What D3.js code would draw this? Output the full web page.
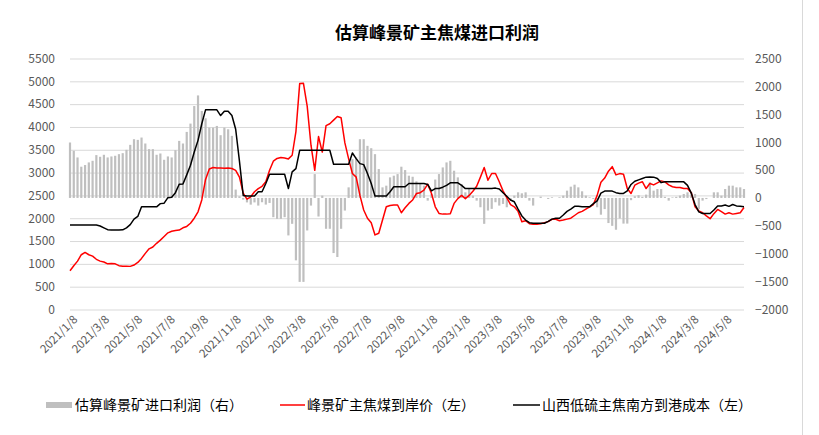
<!DOCTYPE html>
<html><head><meta charset="utf-8">
<script src="https://cdn.jsdelivr.net/npm/d3@7"></script>
<style>
body{margin:0;background:#fff;}
text{font-family:"Noto Sans CJK SC","Noto Sans",sans-serif;}
</style>
</head><body>
<svg id="chart" width="819" height="435"></svg>
<script>
const dates = [
"2021-01-08","2021-01-15","2021-01-22","2021-01-29","2021-02-05","2021-02-12","2021-02-19","2021-02-26","2021-03-05","2021-03-12",
"2021-03-19","2021-03-26","2021-04-02","2021-04-09","2021-04-16","2021-04-23","2021-04-30","2021-05-07","2021-05-14","2021-05-21",
"2021-05-28","2021-06-04","2021-06-11","2021-06-18","2021-06-25","2021-07-02","2021-07-09","2021-07-16","2021-07-23","2021-07-30",
"2021-08-06","2021-08-13","2021-08-20","2021-08-27","2021-09-03","2021-09-10","2021-09-17","2021-09-24","2021-10-01","2021-10-08",
"2021-10-15","2021-10-22","2021-10-29","2021-11-05","2021-11-12","2021-11-19","2021-11-26","2021-12-03","2021-12-10","2021-12-17",
"2021-12-24","2021-12-31","2022-01-07","2022-01-14","2022-01-21","2022-01-28","2022-02-04","2022-02-11","2022-02-18","2022-02-25",
"2022-03-04","2022-03-11","2022-03-18","2022-03-25","2022-04-01","2022-04-08","2022-04-15","2022-04-22","2022-04-29","2022-05-06",
"2022-05-13","2022-05-20","2022-05-27","2022-06-03","2022-06-10","2022-06-17","2022-06-24","2022-07-01","2022-07-08","2022-07-15",
"2022-07-22","2022-07-29","2022-08-05","2022-08-12","2022-08-19","2022-08-26","2022-09-02","2022-09-09","2022-09-16","2022-09-23",
"2022-09-30","2022-10-07","2022-10-14","2022-10-21","2022-10-28","2022-11-04","2022-11-11","2022-11-18","2022-11-25","2022-12-02",
"2022-12-09","2022-12-16","2022-12-23","2022-12-30","2023-01-06","2023-01-13","2023-01-20","2023-01-27","2023-02-03","2023-02-10",
"2023-02-17","2023-02-24","2023-03-03","2023-03-10","2023-03-17","2023-03-24","2023-03-31","2023-04-07","2023-04-14","2023-04-21",
"2023-04-28","2023-05-05","2023-05-12","2023-05-19","2023-05-26","2023-06-02","2023-06-09","2023-06-16","2023-06-23","2023-06-30",
"2023-07-07","2023-07-14","2023-07-21","2023-07-28","2023-08-04","2023-08-11","2023-08-18","2023-08-25","2023-09-01","2023-09-08",
"2023-09-15","2023-09-22","2023-09-29","2023-10-06","2023-10-13","2023-10-20","2023-10-27","2023-11-03","2023-11-10","2023-11-17",
"2023-11-24","2023-12-01","2023-12-08","2023-12-15","2023-12-22","2023-12-29","2024-01-05","2024-01-12","2024-01-19","2024-01-26",
"2024-02-02","2024-02-09","2024-02-16","2024-02-23","2024-03-01","2024-03-08","2024-03-15","2024-03-22","2024-03-29","2024-04-05",
"2024-04-12","2024-04-19","2024-04-26","2024-05-03","2024-05-10","2024-05-17","2024-05-24","2024-05-31","2024-06-07","2024-06-14"
];

// 估算峰景矿进口利润（右）
const profit = [
994,845,726,560,590,637,666,768,738,774,
726,744,756,785,803,863,952,1053,1041,1083,
976,875,875,774,797,684,744,726,857,1023,
976,1184,1333,1648,1838,1559,1428,1261,1261,1291,
1125,1261,1231,1113,150,30,-30,-80,-120,-80,
-137,-77,-119,-90,-345,-375,-375,-345,-672,-464,
-1119,-1505,-1505,-583,-137,428,-333,42,-553,-553,
-988,-1059,-553,-226,190,696,726,1053,1053,934,
892,785,518,190,220,369,399,428,560,500,
399,380,297,250,220,-48,71,330,428,547,
637,666,488,369,250,101,160,42,-48,-167,
-464,-226,-196,-77,-137,-107,-167,-48,42,101,
83,101,-48,-137,0,24,0,-18,12,0,
12,42,131,202,238,190,119,42,12,-18,
-167,-300,-200,-450,-500,-570,-370,-460,-460,-40,
30,50,20,60,280,131,160,160,20,-48,
10,20,42,71,101,101,71,-200,-48,-20,
0,101,101,42,160,220,220,190,190,160
];

// 峰景矿主焦煤到岸价（左）
const pfPrice = [
850,960,1060,1200,1250,1200,1170,1100,1060,1040,
1000,1010,1000,960,950,950,945,975,1030,1120,
1230,1330,1370,1450,1520,1600,1680,1715,1730,1740,
1790,1820,1890,2000,2140,2400,2850,3080,3110,3100,
3100,3095,3100,3090,3050,2900,2550,2420,2470,2580,
2650,2700,2800,3050,3250,3310,3330,3320,3300,3380,
3900,4950,4956,4450,3600,3050,3790,3450,4030,4070,
4150,4230,4200,3650,3300,2980,2900,2500,2180,2000,
1900,1634,1670,1960,2250,2280,2290,2290,2121,2230,
2325,2400,2540,2560,2615,2746,2543,2250,2105,2090,
2090,2100,2325,2430,2500,2430,2500,2590,2700,2900,
3110,2834,2980,2980,2800,2600,2450,2300,2250,2150,
1925,1946,1880,1866,1866,1880,1900,1925,1976,1976,
1946,1960,1980,2000,2060,2120,2150,2200,2250,2300,
2500,2790,2880,3030,3130,2950,2978,2965,2650,2543,
2724,2770,2800,2650,2760,2730,2775,2818,2797,2730,
2690,2674,2674,2650,2650,2560,2250,2160,2120,2050,
1990,2100,2192,2143,2090,2120,2090,2105,2120,2236
];

// 山西低硫主焦南方到港成本（左）
const sxCost = [
1850,1850,1850,1850,1850,1850,1850,1850,1830,1790,
1750,1740,1740,1740,1745,1790,1860,1980,2040,2250,
2250,2250,2250,2250,2320,2330,2450,2460,2560,2745,
2750,2950,3160,3450,3706,4070,4375,4375,4375,4375,
4250,4345,4345,4250,3950,3250,2500,2485,2485,2485,
2580,2580,2760,2964,2964,2964,2964,2964,2650,3015,
3088,3488,3488,3488,3488,3488,3488,3488,3488,3488,
3182,3182,3182,3182,3182,3430,3306,3197,3175,2980,
2760,2485,2485,2485,2485,2580,2690,2690,2690,2690,
2760,2760,2760,2760,2760,2740,2600,2650,2650,2680,
2720,2775,2775,2775,2720,2650,2650,2650,2650,2650,
2650,2650,2650,2660,2640,2560,2480,2400,2360,2200,
2050,1960,1903,1888,1888,1888,1890,1930,1980,2000,
2000,2070,2150,2200,2260,2260,2250,2250,2250,2320,
2380,2550,2595,2595,2595,2560,2543,2543,2600,2740,
2810,2840,2870,2900,2905,2900,2870,2780,2797,2797,
2797,2797,2797,2797,2720,2550,2300,2140,2105,2105,
2105,2180,2270,2270,2290,2260,2300,2270,2260,2250
];

const leftTicks = [0,500,1000,1500,2000,2500,3000,3500,4000,4500,5000,5500];
const rightTicks = [-2000,-1500,-1000,-500,0,500,1000,1500,2000,2500];
const xTickLabels = ["2021/1/8","2021/3/8","2021/5/8","2021/7/8","2021/9/8","2021/11/8",
"2022/1/8","2022/3/8","2022/5/8","2022/7/8","2022/9/8","2022/11/8",
"2023/1/8","2023/3/8","2023/5/8","2023/7/8","2023/9/8","2023/11/8",
"2024/1/8","2024/3/8","2024/5/8"];

const title = "估算峰景矿主焦煤进口利润";
const seriesNames = ["估算峰景矿进口利润（右）","峰景矿主焦煤到岸价（左）","山西低硫主焦南方到港成本（左）"];

const svg = d3.select("#chart");
const parseISO = d3.timeParse("%Y-%m-%d");
const parseLbl = d3.timeParse("%Y/%m/%d");
const dts = dates.map(parseISO);

const L = 70, R = 744, T = 58.5, B = 309.5;
const x = d3.scaleTime().domain([dts[0], dts[dts.length-1]]).range([L, R]);
const yL = d3.scaleLinear().domain([0,5500]).range([B, T]);
const yR = d3.scaleLinear().domain([-2000,2500]).range([B, T]);

// border line at right
svg.append("line").attr("x1",802.5).attr("x2",802.5).attr("y1",0).attr("y2",435)
  .attr("stroke","#d9d9d9").attr("stroke-width",1);

// left axis + grid
const gL = svg.append("g").attr("transform",`translate(${L},0)`)
  .call(d3.axisLeft(yL).tickValues(leftTicks).tickSize(-(R-L)).tickPadding(15).tickFormat(d3.format("d")));
gL.select(".domain").remove();
gL.selectAll(".tick line").attr("stroke","#d9d9d9");
gL.selectAll(".tick text").attr("fill","#595959").style("font-size","12px");

// right axis
const gR = svg.append("g").attr("transform",`translate(${R},0)`)
  .call(d3.axisRight(yR).tickValues(rightTicks).tickSize(0).tickPadding(11).tickFormat(d3.format("d")));
gR.select(".domain").remove();
gR.selectAll(".tick text").attr("fill","#595959").style("font-size","12px");

// x axis
const gX = svg.append("g").attr("transform",`translate(0,${B})`)
  .call(d3.axisBottom(x).tickValues(xTickLabels.map(parseLbl)).tickSize(0)
    .tickFormat((d,i)=>xTickLabels[i]));
gX.select(".domain").remove();
gX.selectAll(".tick text")
  .attr("fill","#595959").style("font-size","11.5px")
  .attr("text-anchor","end").attr("x",0).attr("y",0).attr("dy","0.35em")
  .attr("transform","translate(5,8) rotate(-45)");

// bars
const bw = 2.2;
svg.append("g").selectAll("rect").data(profit).join("rect")
  .attr("x",(d,i)=>x(dts[i])-bw/2)
  .attr("y",d=>Math.min(yR(d),yR(0)))
  .attr("width",bw)
  .attr("height",d=>Math.abs(yR(d)-yR(0)))
  .attr("fill","#bfbfbf");

// lines
const lineL = d3.line().x((d,i)=>x(dts[i])).y(d=>yL(d));
svg.append("path").datum(pfPrice).attr("d",lineL)
  .attr("fill","none").attr("stroke","#ff0000").attr("stroke-width",1.5).attr("stroke-linejoin","round");
svg.append("path").datum(sxCost).attr("d",lineL)
  .attr("fill","none").attr("stroke","#000000").attr("stroke-width",1.5).attr("stroke-linejoin","round");

// title
svg.append("text").attr("x",437).attr("y",33).attr("dy","0.35em")
  .attr("text-anchor","middle").style("font-size","17px").style("font-weight","bold")
  .attr("fill","#000").text(title);

// legend
const lg = svg.append("g");
const ly = 405;
lg.append("rect").attr("x",46).attr("y",ly-3).attr("width",26).attr("height",6).attr("fill","#bfbfbf");
lg.append("text").attr("x",75).attr("y",ly).attr("dy","0.35em").style("font-size","14px").attr("fill","#000").text(seriesNames[0]);
lg.append("line").attr("x1",280).attr("x2",305).attr("y1",ly).attr("y2",ly).attr("stroke","#ff0000").attr("stroke-width",1.5);
lg.append("text").attr("x",307).attr("y",ly).attr("dy","0.35em").style("font-size","14px").attr("fill","#000").text(seriesNames[1]);
lg.append("line").attr("x1",513).attr("x2",540).attr("y1",ly).attr("y2",ly).attr("stroke","#000").attr("stroke-width",1.5);
lg.append("text").attr("x",542).attr("y",ly).attr("dy","0.35em").style("font-size","14px").attr("fill","#000").text(seriesNames[2]);
</script>
</body></html>
